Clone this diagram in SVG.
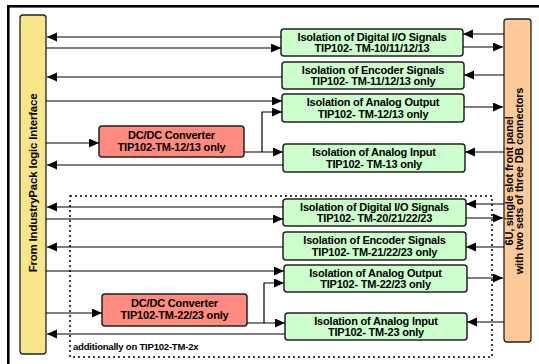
<svg xmlns="http://www.w3.org/2000/svg" width="539" height="364" viewBox="0 0 539 364">
<defs>
<marker id="ah" markerUnits="userSpaceOnUse" markerWidth="10" markerHeight="10" refX="10" refY="4.5" orient="auto">
<path d="M0,0 L10,4.5 L0,9 z" fill="#000"/>
</marker>
<style>
.frame{fill:none;stroke:#000;stroke-width:2.6}
.bar{stroke:#222;stroke-width:1.3}
.iso{fill:#ccffcc;stroke:#222;stroke-width:1.5}
.dc{fill:#ff8a7e;stroke:#222;stroke-width:1.5}
.t{font-family:"Liberation Sans",Arial,sans-serif;font-weight:bold;font-size:11px;letter-spacing:-0.2px;fill:#000;text-anchor:middle}
.small{font-family:"Liberation Sans",Arial,sans-serif;font-weight:bold;font-size:9.5px;letter-spacing:-0.2px;fill:#000}
.c{fill:none;stroke:#000;stroke-width:1.2}
.ca{fill:none;stroke:#000;stroke-width:1.2;marker-end:url(#ah)}
.dot{fill:none;stroke:#000;stroke-width:1.5;stroke-dasharray:2,3}
</style>
</defs>
<rect class="frame" x="8.3" y="6.3" width="600" height="400"/>
<rect class="dot" x="70" y="196" width="422" height="161"/>
<text class="small" x="73" y="349.5">additionally on TIP102-TM-2x</text>

<g id="left-bar">
<rect class="bar" x="20" y="15" width="26" height="339" rx="3" fill="#f9e58a"/>
<text class="t" transform="translate(37,183) rotate(-90)" style="font-size:11.5px">From IndustryPack logic Interface</text>
</g>
<g id="right-bar">
<rect class="bar" x="504" y="19" width="27" height="323" rx="3" fill="#fdc998"/>
<text class="t" transform="translate(513,181) rotate(-90)">6U, single slot front panel</text>
<text class="t" transform="translate(523,181) rotate(-90)">with two sets of three DB connectors</text>
</g>

<g id="iso1"><rect class="iso" x="281" y="29" width="182" height="27" rx="3"/>
<text class="t" x="372" y="40.7">Isolation of Digital I/O Signals</text><text class="t" x="372" y="52.3">TIP102- TM-10/11/12/13</text></g>
<g id="iso2"><rect class="iso" x="282" y="62" width="182" height="27" rx="3"/>
<text class="t" x="373" y="73.7">Isolation of Encoder Signals</text><text class="t" x="373" y="85.3">TIP102- TM-11/12/13 only</text></g>
<g id="iso3"><rect class="iso" x="282" y="94" width="182" height="28" rx="3"/>
<text class="t" x="373" y="106.2">Isolation of Analog Output</text><text class="t" x="373" y="117.8">TIP102- TM-12/13 only</text></g>
<g id="iso4"><rect class="iso" x="283" y="144" width="182" height="28" rx="3"/>
<text class="t" x="374" y="156.2">Isolation of Analog Input</text><text class="t" x="374" y="167.8">TIP102- TM-13 only</text></g>
<g id="dc1"><rect class="dc" x="99" y="126" width="145" height="31" rx="3"/>
<text class="t" x="171.5" y="138.5">DC/DC Converter</text><text class="t" x="171.5" y="150.8">TIP102-TM-12/13 only</text></g>

<g id="iso5"><rect class="iso" x="283" y="199" width="183" height="27" rx="3"/>
<text class="t" x="374.5" y="210.7">Isolation of Digital I/O Signals</text><text class="t" x="374.5" y="222.3">TIP102- TM-20/21/22/23</text></g>
<g id="iso6"><rect class="iso" x="283" y="232" width="183" height="28" rx="3"/>
<text class="t" x="374.5" y="244.2">Isolation of Encoder Signals</text><text class="t" x="374.5" y="255.8">TIP102- TM-21/22/23 only</text></g>
<g id="iso7"><rect class="iso" x="284" y="265" width="183" height="27" rx="3"/>
<text class="t" x="375.5" y="276.7">Isolation of Analog Output</text><text class="t" x="375.5" y="288.3">TIP102- TM-22/23 only</text></g>
<g id="iso8"><rect class="iso" x="285" y="313" width="182" height="27" rx="3"/>
<text class="t" x="376" y="324.7">Isolation of Analog Input</text><text class="t" x="376" y="336.3">TIP102- TM-23 only</text></g>
<g id="dc2"><rect class="dc" x="102" y="294" width="145" height="32" rx="3"/>
<text class="t" x="174.5" y="306.8">DC/DC Converter</text><text class="t" x="174.5" y="319.1">TIP102-TM-22/23 only</text></g>

<g id="connectors">
<path class="ca" d="M281,37 H47"/>
<path class="ca" d="M46,48 H281"/>
<path class="ca" d="M282,77 H47"/>
<path class="ca" d="M46,101 H282"/>
<path class="ca" d="M46,143 H99"/>
<path class="ca" d="M244,152 H283"/>
<path class="ca" d="M262,152 V112 H282"/>
<path class="ca" d="M283,165 H47"/>
<path class="ca" d="M504,34 H463"/>
<path class="ca" d="M463,47 H503"/>
<path class="ca" d="M504,75 H464"/>
<path class="ca" d="M464,107 H503"/>
<path class="ca" d="M504,152 H465"/>

<path class="ca" d="M283,207 H47"/>
<path class="ca" d="M46,219 H283"/>
<path class="ca" d="M283,247 H47"/>
<path class="ca" d="M46,271 H284"/>
<path class="ca" d="M46,313 H102"/>
<path class="ca" d="M247,323 H285"/>
<path class="ca" d="M264,323 V283 H284"/>
<path class="ca" d="M285,334 H47"/>
<path class="ca" d="M504,204 H466"/>
<path class="ca" d="M466,218 H503"/>
<path class="ca" d="M504,247 H466"/>
<path class="ca" d="M467,278 H503"/>
<path class="ca" d="M504,322 H467"/>
</g>
</svg>
